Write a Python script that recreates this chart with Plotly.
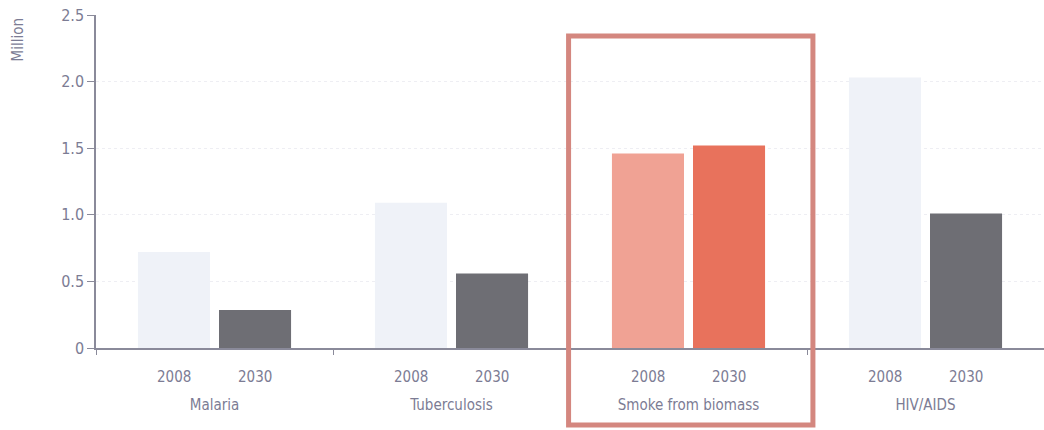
import plotly.graph_objects as go

categories = ["Malaria", "Tuberculosis", "Smoke from biomass", "HIV/AIDS"]
years = ["2008", "2030"]
values_2008 = [0.72, 1.09, 1.46, 2.03]
values_2030 = [0.285, 0.56, 1.52, 1.01]
y_ticks = [0, 0.5, 1.0, 1.5, 2.0, 2.5]
y_ticktext = ["0", "0.5", "1.0", "1.5", "2.0", "2.5"]
highlight = "Smoke from biomass"

colors_2008 = ["#f0a294" if c == highlight else "#eff2f8" for c in categories]
colors_2030 = ["#e8725c" if c == highlight else "#6e6e74" for c in categories]

FONT = "Liberation Sans Narrow, DejaVu Sans Condensed, Open Sans, sans-serif"
TXT = "#7c7c94"
BARGAP = 0.316
GROUPGAP = 0.111
ML, MR, MT, MB = 96, 0, 15, 82
W, H = 1044, 430
PH = H - MT - MB

fig = go.Figure()
fig.add_trace(go.Bar(x=categories, y=values_2008, name=years[0],
                     marker=dict(color=colors_2008, line=dict(width=0))))
fig.add_trace(go.Bar(x=categories, y=values_2030, name=years[1],
                     marker=dict(color=colors_2030, line=dict(width=0))))

# year labels below each bar
plot_w = W - ML - MR
slot = plot_w / len(categories) * (1 - BARGAP) / 2
for c in categories:
    for k, yr in enumerate(years):
        fig.add_annotation(x=c, y=0, xref="x", yref="y", text=yr, showarrow=False,
                           xshift=(k - 0.5) * slot, yshift=-29,
                           font=dict(family=FONT, size=15, color=TXT))

# highlight box around "Smoke from biomass" (paper coords so it isn't clipped)
idx = categories.index(highlight)
n = len(categories)
fig.add_shape(type="rect", xref="paper", yref="paper",
              x0=(idx + 0.5 - 0.506) / n, x1=(idx + 0.5 + 0.525) / n,
              y0=-77 / PH, y1=(PH - 21) / PH,
              line=dict(color="#d4877f", width=5), fillcolor="rgba(0,0,0,0)",
              layer="above")

fig.update_layout(
    width=W, height=H,
    margin=dict(l=ML, r=MR, t=MT, b=MB, autoexpand=False),
    paper_bgcolor="white", plot_bgcolor="white",
    barmode="group", bargap=BARGAP, bargroupgap=GROUPGAP,
    showlegend=False,
    font=dict(family=FONT, color=TXT),
)
fig.update_xaxes(
    type="category", showline=True, linecolor="#8a8a9a", linewidth=1.5,
    ticks="outside", tickson="boundaries", ticklen=5, tickcolor="#8a8a9a",
    showgrid=False, ticklabelstandoff=42, automargin=False,
    tickfont=dict(family=FONT, size=15, color=TXT),
)
fig.update_yaxes(
    range=[0, 2.5], tickvals=y_ticks, ticktext=y_ticktext,
    showline=True, linecolor="#8a8a9a", linewidth=1.5,
    ticks="outside", ticklen=7, tickcolor="#8a8a9a",
    showgrid=True, gridcolor="#eeeef3", griddash="dot", gridwidth=1,
    zeroline=False, automargin=False, ticklabeloverflow="allow",
    tickfont=dict(family=FONT, size=16, color=TXT),
)
fig.add_annotation(xref="paper", yref="paper", x=-78 / plot_w, y=(PH - 2) / PH,
                   text="Million", textangle=-90, showarrow=False,
                   xanchor="center", yanchor="top",
                   font=dict(family=FONT, size=15, color=TXT))

# remove the browser's default 8px page margin so the figure fills the window
fig.write_html("out.html",
               config={"displayModeBar": False},
               post_script="document.body.style.margin='0';"
                           "document.body.style.overflow='hidden';")
